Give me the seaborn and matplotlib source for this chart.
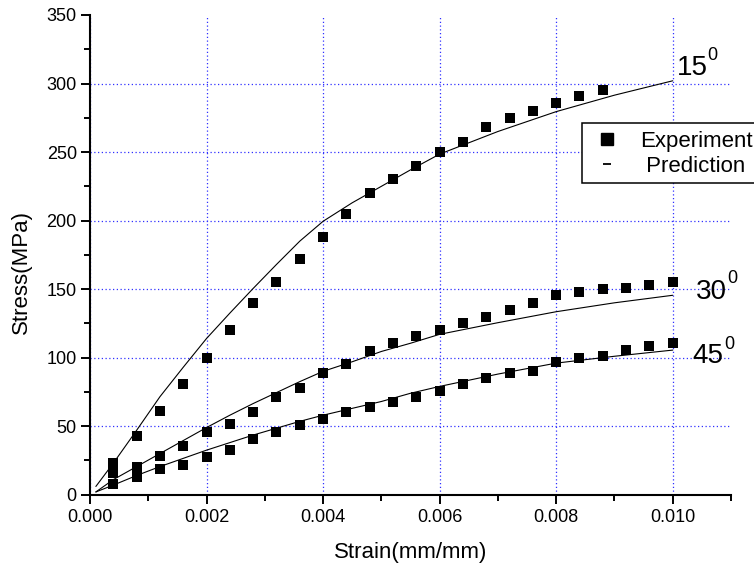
import matplotlib
matplotlib.use('Agg')
import matplotlib.pyplot as plt
from matplotlib.lines import Line2D
from matplotlib.patches import Rectangle
from matplotlib.ticker import MultipleLocator, FormatStrFormatter
import pandas as pd
import seaborn as sns

# Experimental points (strain in mm/mm, stress in MPa)
strain_exp = [0.0004, 0.0008, 0.0012, 0.0016, 0.0020, 0.0024, 0.0028, 0.0032,
              0.0036, 0.0040, 0.0044, 0.0048, 0.0052, 0.0056, 0.0060, 0.0064,
              0.0068, 0.0072, 0.0076, 0.0080, 0.0084, 0.0088, 0.0092, 0.0096,
              0.0100]
exp_15 = [23, 43, 61, 80.5, 100, 120, 140, 155, 172, 188, 205, 220, 230, 240,
          250, 257, 268, 275, 280, 286, 291, 295]
exp_30 = [15.5, 20.5, 28, 35.5, 45.5, 51.5, 60.5, 71, 78, 89, 95, 105, 110.5,
          115.5, 120, 125, 130, 135, 140, 145.5, 148, 150, 151, 153, 155]
exp_45 = [8, 13, 18.5, 21.5, 27.5, 32.5, 40.5, 45.5, 50.5, 55.5, 60.5, 64,
          67.5, 71.5, 75.5, 80.5, 85.5, 88.5, 90.5, 96.5, 99.5, 101, 105.5,
          108.5, 110.5]

# Prediction curves
strain_pred = [0.0001, 0.0004, 0.0008, 0.0012, 0.0016, 0.0020, 0.0024, 0.0028,
               0.0032, 0.0036, 0.0040, 0.0045, 0.0050, 0.0055, 0.0060, 0.0070,
               0.0080, 0.0090, 0.0100]
pred_15 = [6, 23, 47, 71.5, 93, 114, 132.5, 150.5, 168, 185, 199.5, 213, 225,
           237, 248.5, 265, 279.5, 291.5, 302]
pred_30 = [2, 11, 20.5, 30, 39.5, 49, 58, 66.5, 74.5, 82.5, 90, 97, 104.5,
           110.5, 117, 125.5, 133.5, 140, 145.5]
pred_45 = [2, 7, 14, 20.5, 26.5, 32.5, 38, 43.5, 48.5, 53.5, 58, 63, 68, 74,
           79, 88, 96, 101, 105.5]

angles = ['15', '30', '45']

exp_df = pd.concat([
    pd.DataFrame({'strain': strain_exp[:len(v)], 'stress': v, 'angle': a})
    for a, v in zip(angles, [exp_15, exp_30, exp_45])
])
pred_df = pd.concat([
    pd.DataFrame({'strain': strain_pred, 'stress': v, 'angle': a})
    for a, v in zip(angles, [pred_15, pred_30, pred_45])
])

sns.set_style('ticks')
plt.rcParams['font.family'] = ['Liberation Sans', 'DejaVu Sans']
plt.rcParams['text.color'] = 'black'
plt.rcParams['axes.labelcolor'] = 'black'
plt.rcParams['xtick.color'] = 'black'
plt.rcParams['ytick.color'] = 'black'

fig = plt.figure(figsize=(7.54, 5.66), dpi=100)
ax = fig.add_axes([0.1194, 0.1260, 0.8501, 0.8475])

sns.lineplot(data=pred_df, x='strain', y='stress', units='angle', estimator=None,
             sort=False, color='black', linewidth=0.8, legend=False, ax=ax)
sns.scatterplot(data=exp_df, x='strain', y='stress', marker='s', s=52,
                color='black', linewidth=0, legend=False, ax=ax, zorder=3)

ax.set_xlim(0, 0.011)
ax.set_ylim(0, 350)
ax.xaxis.set_major_locator(MultipleLocator(0.002))
ax.xaxis.set_minor_locator(MultipleLocator(0.001))
ax.xaxis.set_major_formatter(FormatStrFormatter('%.3f'))
ax.yaxis.set_major_locator(MultipleLocator(50))
ax.yaxis.set_minor_locator(MultipleLocator(25))

ax.grid(True, which='major', color='#3030ff', linestyle=(0, (1, 2)), linewidth=0.9)
for t in ax.yaxis.get_major_ticks():
    if abs(t.get_loc() - 350) < 1e-6:
        t.gridline.set_visible(False)

for side in ['top', 'right']:
    ax.spines[side].set_visible(False)
for side in ['left', 'bottom']:
    ax.spines[side].set_linewidth(1.5)
    ax.spines[side].set_color('black')

ax.tick_params(which='major', direction='out', length=6.5, width=1.4,
               labelsize=13, pad=3, colors='black')
ax.tick_params(axis='x', which='major', pad=4)
ax.tick_params(which='minor', direction='out', length=4, width=1.4, colors='black')

ax.set_xlabel('Strain(mm/mm)', fontsize=16, va='top')
ax.set_ylabel('Stress(MPa)', fontsize=16)
ax.xaxis.set_label_coords(0.5, -0.098)
ax.yaxis.set_label_coords(-0.091, 0.465)

# angle labels with superscript zero
ax.text(0.01007, 306.4, '15', fontsize=20, va='baseline', ha='left')
ax.text(0.01060, 317.3, '0', fontsize=13, va='baseline', ha='left')
ax.text(0.01039, 142.8, '30', fontsize=20, va='baseline', ha='left')
ax.text(0.01094, 154.5, '0', fontsize=13, va='baseline', ha='left')
ax.text(0.01034, 96.4, '45', fontsize=20, va='baseline', ha='left')
ax.text(0.01089, 106.4, '0', fontsize=13, va='baseline', ha='left')

# legend; its box runs past the right edge of the figure like the original
handles = [
    Line2D([], [], marker='s', linestyle='none', color='black', markersize=9),
    Line2D([], [], marker='_', linestyle='none', color='black', markersize=6,
           markeredgewidth=1.3),
]
leg = ax.legend(handles, ['Experiment', ' Prediction'], loc='upper left',
                bbox_to_anchor=(581.7 / 754, 1 - 122.7 / 566),
                bbox_transform=fig.transFigure, borderaxespad=0, fontsize=16,
                frameon=False, borderpad=0.36,
                handlelength=1.6, handletextpad=0.66, labelspacing=0.2)
box = Rectangle((581.7 / 754, 1 - 183 / 566), 200 / 754, 60.3 / 566,
                transform=fig.transFigure, fill=True, facecolor='white',
                edgecolor='black', linewidth=1.1, zorder=4)
ax.add_artist(box)
box.set_clip_on(False)
leg.set_zorder(5)

fig.savefig('out.png', dpi=100)
